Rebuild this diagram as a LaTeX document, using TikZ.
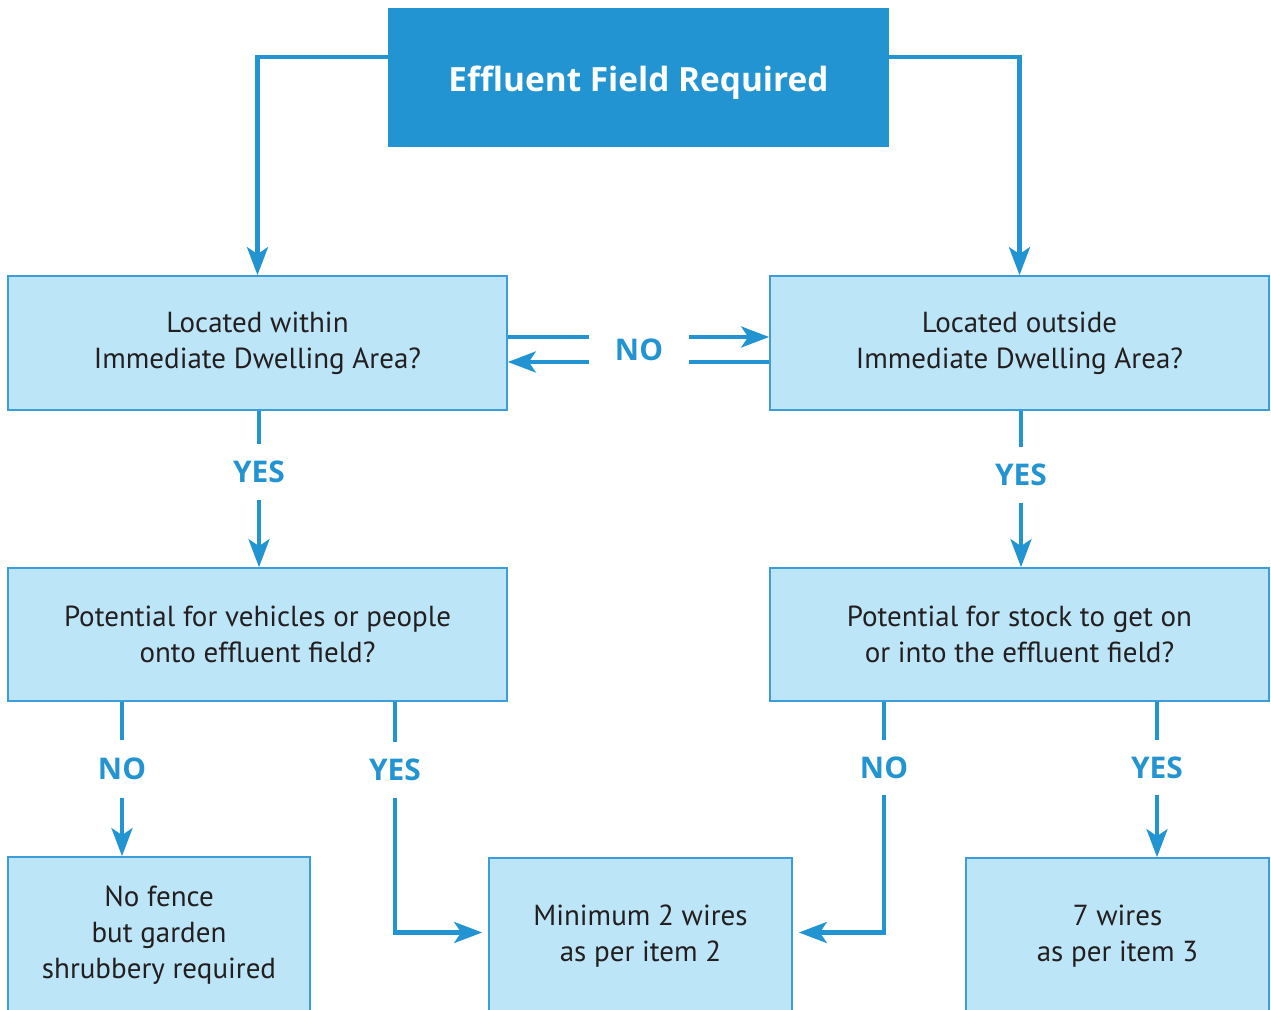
\documentclass[tikz,border=0pt]{standalone}
\usepackage{fontspec}
\setmainfont{PT Sans}
\newfontfamily\boldlabel{Open Sans}
\usetikzlibrary{arrows.meta, calc}
\definecolor{flowblue}{HTML}{2394D2}
\definecolor{boxfill}{HTML}{BDE5F8}
\definecolor{boxline}{HTML}{3C9DDB}
\definecolor{textgrey}{HTML}{231F20}

\begin{document}
\begin{tikzpicture}[x=0.02cm, y=-0.02cm,
    box/.style={draw=boxline, line width=1pt, fill=boxfill, align=center,
        text=textgrey, inner sep=0pt, font=\fontsize{16.5}{20.5}\selectfont},
    topbox/.style={fill=flowblue, text=white, align=center, inner sep=0pt,
        minimum width=10.02cm, minimum height=2.78cm,
        font=\boldlabel\bfseries\fontsize{19}{22}\selectfont},
    answer/.style={text=flowblue, inner sep=0pt, font=\boldlabel\bfseries\fontsize{17}{18}\selectfont},
    line/.style={draw=flowblue, line width=2.3pt},
    flow/.style={line, -{Stealth[length=0.56cm, width=0.42cm, inset=0.14cm]}}]
\clip (0,0) rectangle (1271,1010);
\fill[white] (0,0) rectangle (1271,1010);

% Top box
\node[topbox] (top) at (638.5,77.5) {\raisebox{-0.1cm}[\height][\depth]{Effluent Field Required}};

% Dwelling area questions
\node[box, minimum width=9.98cm, minimum height=2.68cm] (within) at (257.5,343)
    {Located within\\Immediate Dwelling Area?};
\node[box, minimum width=9.98cm, minimum height=2.68cm] (outside) at (1019.5,343)
    {Located outside\\Immediate Dwelling Area?};

% Access questions
\node[box, minimum width=9.98cm, minimum height=2.66cm] (vehicles) at (257.5,634.5)
    {Potential for vehicles or people\\onto effluent field?};
\node[box, minimum width=9.98cm, minimum height=2.66cm] (stock) at (1019.5,634.5)
    {Potential for stock to get on\\or into the effluent field?};

% Outcomes (cut at the bottom edge)
\node[box, minimum width=6.04cm, minimum height=3.12cm] (nofence) at (159,935)
    {No fence\\but garden\\shrubbery required};
\node[box, minimum width=6.06cm, minimum height=3.12cm] (twowires) at (640.5,936)
    {Minimum 2 wires\\as per item 2};
\node[box, minimum width=6.06cm, minimum height=3.12cm] (sevenwires) at (1117.5,936)
    {7 wires\\as per item 3};

% Answer labels
\node[answer, minimum width=2cm] (noMid) at (639,350) {NO};
\node[answer, minimum height=1.1cm] (yesWithin) at (259,472) {YES};
\node[answer, minimum height=1.12cm] (yesOutside) at (1021,475) {YES};
\node[answer, minimum height=1.16cm] (noVeh) at (122,769) {NO};
\node[answer, minimum height=1.12cm] (yesVeh) at (395,770) {YES};
\node[answer, minimum height=1.1cm] (noStock) at (884,767.5) {NO};
\node[answer, minimum height=1.1cm] (yesStock) at (1157,767.5) {YES};

% From the top box
\draw[flow] ([yshift=0.41cm]top.west) -| (within.north);
\draw[flow] ([yshift=0.41cm]top.east) -| (outside.north);

% NO both ways between the two questions
\draw[line] ([yshift=0.12cm]within.east) -- ([yshift=0.12cm]within.east -| noMid.west);
\draw[flow] ([yshift=0.12cm]outside.west -| noMid.east) -- ([yshift=0.12cm]outside.west);
\draw[line] ([yshift=-0.38cm]outside.west) -- ([yshift=-0.38cm]outside.west -| noMid.east);
\draw[flow] ([yshift=-0.38cm]within.east -| noMid.west) -- ([yshift=-0.38cm]within.east);

% YES downwards
\draw[line] (yesWithin |- within.south) -- (yesWithin);
\draw[flow] (yesWithin) -- (yesWithin |- vehicles.north);
\draw[line] (yesOutside |- outside.south) -- (yesOutside);
\draw[flow] (yesOutside) -- (yesOutside |- stock.north);

% Vehicles branch
\draw[line] (noVeh |- vehicles.south) -- (noVeh);
\draw[flow] (noVeh) -- (noVeh |- nofence.north);
\draw[line] (yesVeh |- vehicles.south) -- (yesVeh);
\draw[flow, shorten >=0.12cm] (yesVeh) |- ([yshift=0.07cm]twowires.west);

% Stock branch
\draw[line] (noStock |- stock.south) -- (noStock);
\draw[flow, shorten >=0.12cm] (noStock) |- ([yshift=0.07cm]twowires.east);
\draw[line] (yesStock |- stock.south) -- (yesStock);
\draw[flow] (yesStock) -- (yesStock |- sevenwires.north);
\end{tikzpicture}
\end{document}
